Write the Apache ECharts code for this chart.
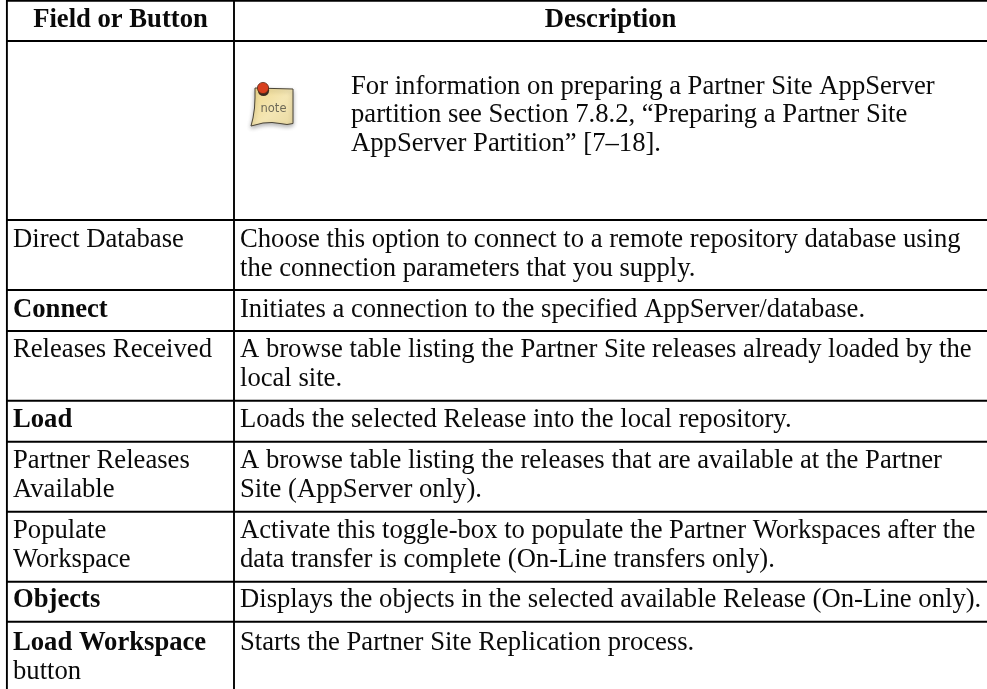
<!DOCTYPE html>
<html><head><meta charset="utf-8">
<style>html,body{margin:0;padding:0;background:#fff;overflow:hidden}#c{width:987px;height:689px;filter:blur(0.4px)}</style>
<script src="https://cdn.jsdelivr.net/npm/echarts@6/dist/echarts.min.js"></script>
</head><body><div id="c"></div>
<script>
const headers = ["Field or Button", "Description"];
const noteLines = [
  "For information on preparing a Partner Site AppServer",
  "partition see Section 7.8.2, “Preparing a Partner Site",
  "AppServer Partition” [7–18]."
];
const fieldColumn = [
  [["Direct Database", false]],
  [["Connect", true]],
  [["Releases Received", false]],
  [["Load", true]],
  [["Partner Releases", false], ["Available", false]],
  [["Populate", false], ["Workspace", false]],
  [["Objects", true]],
  [["Load Workspace", true], ["button", false]]
];
const descriptionColumn = [
  ["Choose this option to connect to a remote repository database using", "the connection parameters that you supply."],
  ["Initiates a connection to the specified AppServer/database."],
  ["A browse table listing the Partner Site releases already loaded by the", "local site."],
  ["Loads the selected Release into the local repository."],
  ["A browse table listing the releases that are available at the Partner", "Site (AppServer only)."],
  ["Activate this toggle-box to populate the Partner Workspaces after the", "data transfer is complete (On-Line transfers only)."],
  ["Displays the objects in the selected available Release (On-Line only)."],
  ["Starts the Partner Site Replication process."]
];

// layout
const FONT = '"Liberation Serif"', SIZE = 26.65, LH = 28.6;
const rowLines = [0.7, 41, 220, 290, 331, 400.7, 441.7, 511.7, 581.7, 621.7];
const firstBaselines = [246.7, 316.7, 356.7, 426.7, 468, 538, 606.7, 650];
const leftX = 6.9, divX = 234, rightX = 987, H = 689;

const els = [];
function line(x1, y1, x2, y2) {
  els.push({type:'line', shape:{x1,y1,x2,y2}, style:{stroke:'#000', lineWidth:1.9}});
}
function text(s, x, base, bold, align) {
  els.push({type:'text', x, y: base - SIZE*0.29 + 1, style:{
    text:s, x:0, y:0, fill:'#0a0a0a', align:align||'left', verticalAlign:'middle',
    font:(bold?'bold ':'') + SIZE + 'px ' + FONT
  }});
}
rowLines.forEach(y => line(leftX, y, rightX, y));
line(leftX, 0, leftX, H);
line(divX, 0, divX, H);

text(headers[0], (leftX+divX)/2, 26.7, true, 'center');
text(headers[1], (divX+rightX)/2, 26.7, true, 'center');
noteLines.forEach((s,i) => text(s, 351, 93.5 + i*LH, false));
fieldColumn.forEach((rows,r) => rows.forEach((p,i) => text(p[0], 13, firstBaselines[r] + i*LH, p[1])));
descriptionColumn.forEach((rows,r) => rows.forEach((s,i) => text(s, 240, firstBaselines[r] + i*LH, false)));

// note icon
els.push({type:'polygon', shape:{points:[[255,88],[293,89],[293,123.5],[287,124.5],[280,123.5],[272,122.5],[263,123],[257,124.5],[251,126],[253,118],[254.5,108],[255,98]]},
  style:{fill:{type:'linear',x:0,y:0,x2:1,y2:1,colorStops:[{offset:0,color:'#f0d98a'},{offset:0.55,color:'#f4e6b4'},{offset:1,color:'#e9d9a2'}]}, stroke:'#4a4436', lineWidth:1, shadowBlur:4, shadowColor:'rgba(0,0,0,0.3)', shadowOffsetY:2}});
els.push({type:'text', x:273.5, y:109, style:{text:'note', x:0, y:0, fill:'#6e6a58', align:'center', verticalAlign:'middle', font:'11.5px "DejaVu Sans"'}});
els.push({type:'circle', shape:{cx:263.5,cy:90.5,r:5.6}, style:{fill:'#3a2a20'}});
els.push({type:'circle', shape:{cx:263,cy:88,r:5.6}, style:{fill:'#d8401e', stroke:'#5a2a18', lineWidth:0.8}});

const chart = echarts.init(document.getElementById('c'), null, {renderer:'canvas', width:987, height:689});
chart.setOption({animation:false, backgroundColor:'#fff', graphic:{elements:els}});
</script></body></html>
